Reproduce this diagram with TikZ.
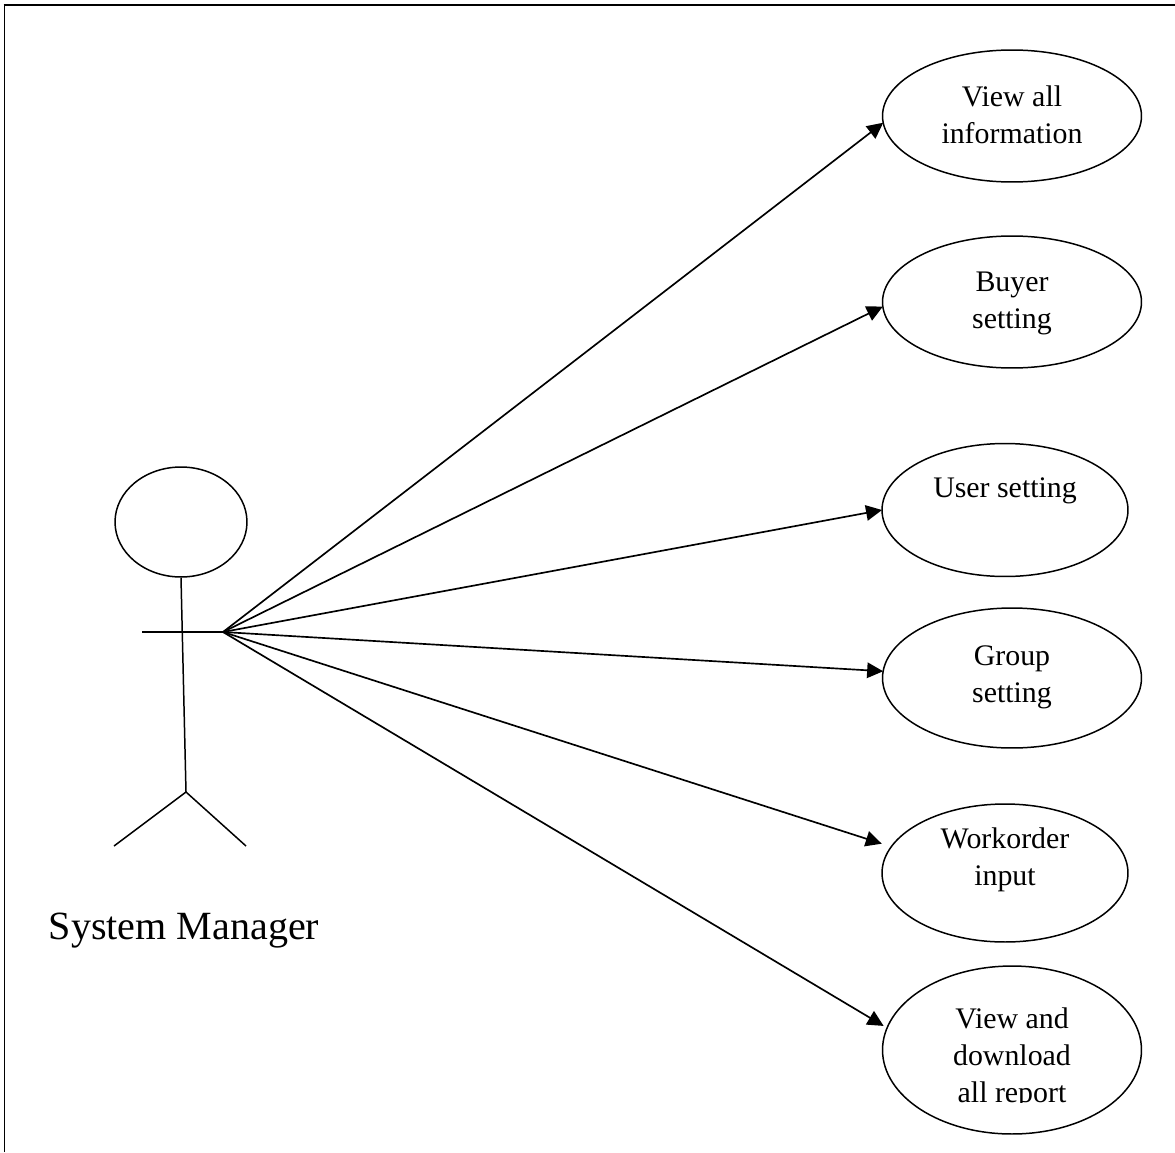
\documentclass[tikz,border=0pt]{standalone}
\usepackage{fontspec}
\setmainfont{Liberation Serif}
\usetikzlibrary{shapes.geometric, arrows.meta}
\tikzset{
usecase/.style={ellipse,draw,inner sep=0pt,outer sep=0pt,minimum width=5.18cm},
caselabel/.style={align=center,inner sep=0pt,font=\fontsize{17}{21}\selectfont},
}
\begin{document}
\begin{tikzpicture}[x=0.02cm,y=-0.02cm,line width=0.85pt,>={Triangle[length=0.32cm,width=0.31cm]}]
\useasboundingbox (0,0) rectangle (1175,1152);
\coordinate (bl) at (4.5,1152);
\coordinate (tl) at (4.5,5);
\coordinate (tr) at (1175,5);
\draw (bl) -- (tl);
\draw[line width=1.2pt] (3.5,5) -- (tr);
\node (head) at (181,522) [ellipse,draw,inner sep=0pt,minimum width=2.64cm,minimum height=2.2cm] {};
\coordinate (hip) at (186,792);
\coordinate (larm) at (142,632);
\coordinate (hand) at (223,632);
\coordinate (lfoot) at (114,846);
\coordinate (rfoot) at (246,846);
\draw (head.south) -- (hip);
\draw (larm) -- (hand);
\draw (lfoot) -- (hip) -- (rfoot);
\node (actor) at (184,931) [inner sep=0pt,font=\fontsize{22.8}{27}\selectfont] {System Manager};
\node (view) at (1012,116) [usecase,minimum height=2.64cm] {};
\node (buyer) at (1012,302) [usecase,minimum height=2.64cm] {};
\node (user) at (1005,510) [usecase,minimum width=4.92cm,minimum height=2.66cm] {};
\node (group) at (1012,678) [usecase,minimum height=2.8cm] {};
\node (work) at (1005,873) [usecase,minimum width=4.92cm,minimum height=2.76cm] {};
\node (report) at (1012,1050) [usecase,minimum height=3.36cm] {};
\node (viewl) at (1012,115) [caselabel] {View all\\information};
\node (buyerl) at (1012,303.5) [caselabel] {Buyer\\setting};
\node (userl) at (1005,491) [caselabel] {User setting};
\node (groupl) at (1012,677) [caselabel] {Group\\setting};
\node (workl) at (1005,860) [caselabel] {Workorder\\input};
\begin{scope}
\clip (900,1000) rectangle (1120,1102);
\node (reportl) at (1012,1058) [caselabel] {View and\\download\\all report};
\end{scope}
\draw[->,line width=0.95pt] (hand) -- (view.183);
\draw[->,line width=0.95pt] (hand) -- (buyer.182.6);
\draw[->,line width=0.95pt] (hand) -- (user.west);
\draw[->,line width=0.95pt] (hand) -- (group.177);
\draw[->,line width=0.95pt,shorten >=0.2cm] (hand) -- (work.167.4);
\draw[->,line width=0.95pt,shorten >=0.08cm] (hand) -- (report.170.4);
\end{tikzpicture}
\end{document}
